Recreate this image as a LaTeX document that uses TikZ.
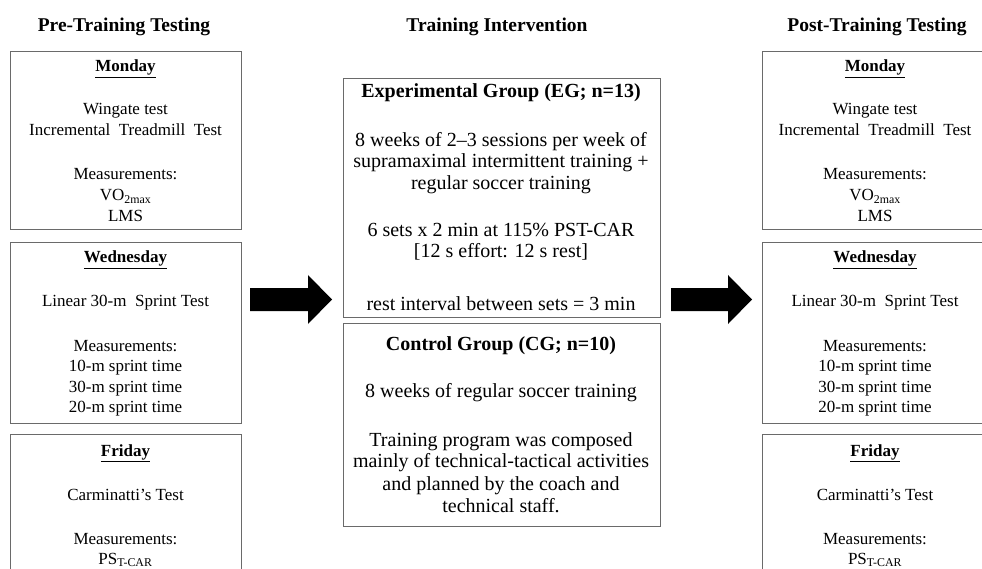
\documentclass[tikz,border=0pt]{standalone}
\usepackage{fontspec}
\setmainfont{Liberation Serif}
\definecolor{boxgray}{HTML}{6A6A6A}
\begin{document}
\begin{tikzpicture}[x=1pt,y=-1pt,
  box/.style={draw=boxgray,line width=1.3pt,rectangle,inner sep=0pt,anchor=north west},
  titletxt/.style={anchor=base,inner sep=0pt,font=\fontsize{19.5}{23}\selectfont\bfseries},
  sidetxt/.style={anchor=base,inner sep=0pt,font=\fontsize{17}{20}\selectfont},
  midtxt/.style={anchor=base,inner sep=0pt,font=\fontsize{20}{24}\selectfont},
  blockarrow/.style={fill=black,draw=none}]
\useasboundingbox (0,0) rectangle (982,569);
\clip (0,0) rectangle (982,569);
% titles
\node[titletxt] (tpre) at (124,32) {Pre-Training Testing};
\node[titletxt] (tint) at (497,32) {Training Intervention};
\node[titletxt] (tpost) at (877,32) {Post-Training Testing};
% boxes
\node[box,minimum width=231pt,minimum height=178pt] (preMon) at (10,51) {};
\node[box,minimum width=231pt,minimum height=181pt] (preWed) at (10,242) {};
\node[box,minimum width=231pt,minimum height=160pt] (preFri) at (10,434) {};
\node[box,minimum width=317pt,minimum height=239pt] (eg) at (343,78) {};
\node[box,minimum width=317pt,minimum height=203pt] (cg) at (343,323) {};
\node[box,minimum width=230pt,minimum height=178pt] (postMon) at (762,51) {};
\node[box,minimum width=230pt,minimum height=181pt] (postWed) at (762,242) {};
\node[box,minimum width=230pt,minimum height=160pt] (postFri) at (762,434) {};
% side texts
\foreach \cx/\pfx in {125.5/pre,875/post}{
  \foreach \y/\t in {72/{\bfseries\underline{Monday}},115/{Wingate test},136/{Incremental\ \ Treadmill\ \ Test},180/{Measurements:},201/{VO\textsubscript{2max}},222/{LMS},
    263/{\bfseries\underline{Wednesday}},306/{Linear 30-m\ \ Sprint Test},351/{Measurements:},371/{10-m sprint time},392/{30-m sprint time},412/{20-m sprint time},
    456/{\bfseries\underline{Friday}},500/{Carminatti's Test},544/{Measurements:},564/{PS\textsubscript{T-CAR}}}
    \node[sidetxt] (\pfx L\y) at (\cx,\y) {\t};
}
% middle texts
\foreach \y/\t in {98/{\bfseries Experimental Group (EG; n=13)},147/{8 weeks of 2--3 sessions per week of},168/{supramaximal intermittent training +},190/{regular soccer training},237/{6 sets x 2 min at 115\% PST-CAR},258/{[12 s effort: 12 s rest]},310/{rest interval between sets = 3 min},
  350/{\bfseries Control Group (CG; n=10)},397/{8 weeks of regular soccer training},446/{Training program was composed},467/{mainly of technical-tactical activities},490/{and planned by the coach and},512/{technical staff.}}
  \node[midtxt] (midL\y) at (501,\y) {\t};
% block arrows
\coordinate (a1) at (250,323.5);
\coordinate (a2) at (671,323.5);
\foreach \a/\len in {a1/58,a2/57}{
  \fill[blockarrow] ([yshift=12.5pt]\a) -- ++(\len,0) -- ++(0,13) -- ++(24,-24.5) -- ++(-24,-24.5) -- ++(0,13) -- ++(-\len,0) -- cycle;
}
\end{tikzpicture}
\end{document}
